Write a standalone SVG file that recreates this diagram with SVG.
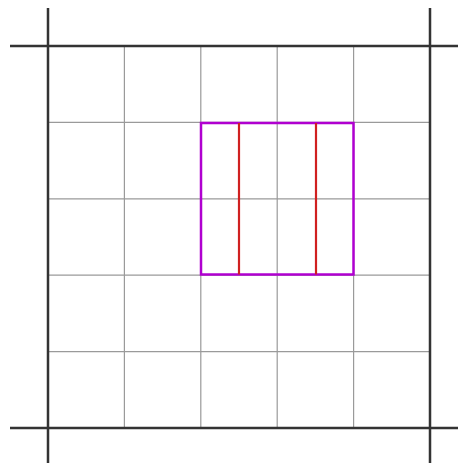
<svg xmlns="http://www.w3.org/2000/svg" width="458" height="463" viewBox="0 0 458 463">
<style>
.grid{stroke:#9a9a9a;stroke-width:1.2;fill:none}
.axis{stroke:#333;stroke-width:2.5;fill:none}
.box{stroke:#b000d0;stroke-width:2.5;fill:none}
.bar{stroke:#d02020;stroke-width:2.2;fill:none}
</style>
<rect width="458" height="463" fill="#fff"/>
<g id="grid">
<path class="grid" d="M124.4 46V428M200.8 46V428M277.2 46V428M353.6 46V428M48 122.4H430M48 198.8H430M48 275.2H430M48 351.6H430"/>
</g>
<g id="axes">
<path class="axis" d="M48 8V463M430 8V463M10 46H458M10 428H458"/>
</g>
<g id="box">
<rect class="box" x="201" y="123" width="152.5" height="151.5"/>
</g>
<g id="bars">
<path class="bar" d="M239 123V274.5M316 123V274.5"/>
</g>
</svg>
